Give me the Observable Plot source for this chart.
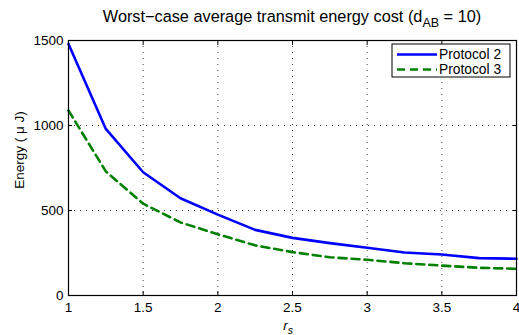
<!DOCTYPE html>
<html>
<head>
<meta charset="utf-8">
<script src="https://cdn.jsdelivr.net/npm/d3@7"></script>
<script src="https://cdn.jsdelivr.net/npm/@observablehq/plot@0.6"></script>
<style>
  html, body { margin: 0; padding: 0; background: #fff; }
  svg { display: block; }
</style>
</head>
<body>
<div id="chart"></div>
<script>
const rs = [1, 1.25, 1.5, 1.75, 2, 2.25, 2.5, 2.75, 3, 3.25, 3.5, 3.75, 4];
const protocol2 = [1480, 980, 725, 572, 476, 386, 339, 308, 281, 253, 241, 220, 216];
const protocol3 = [1088, 730, 540, 430, 360, 295, 255, 225, 210, 190, 176, 163, 157];
const xTicks = [1, 1.5, 2, 2.5, 3, 3.5, 4];
const yTicks = [0, 500, 1000, 1500];
const seriesNames = ["Protocol 2", "Protocol 3"];
const seriesColors = ["#0000ff", "#008000"];

const data = [];
rs.forEach((r, i) => {
  data.push({r, e: protocol2[i], s: seriesNames[0]});
  data.push({r, e: protocol3[i], s: seriesNames[1]});
});

const font = "'Liberation Sans', Arial, Helvetica, sans-serif";
const empty = () => "";

const chart = Plot.plot({
  width: 519,
  height: 335,
  marginLeft: 68,
  marginRight: 3,
  marginTop: 40,
  marginBottom: 40,
  style: {fontFamily: font, fontSize: "13.5px", color: "#000", background: "#fff"},
  x: {domain: [1, 4]},
  y: {domain: [0, 1500]},
  marks: [
    Plot.gridX(xTicks, {stroke: "#222", strokeOpacity: 0.85, strokeDasharray: "1,5"}),
    Plot.gridY(yTicks, {stroke: "#222", strokeOpacity: 0.85, strokeDasharray: "1,5"}),
    Plot.line(data.filter(d => d.s === seriesNames[0]), {x: "r", y: "e", stroke: seriesColors[0], strokeWidth: 2.6}),
    Plot.line(data.filter(d => d.s === seriesNames[1]), {x: "r", y: "e", stroke: seriesColors[1], strokeWidth: 2.6, strokeDasharray: "8,5"}),
    Plot.frame({stroke: "#000", strokeWidth: 1.2}),
    // inward tick marks (MATLAB style)
    Plot.axisX(xTicks, {anchor: "bottom", tickSize: 4, dy: -4, tickFormat: empty, label: null}),
    Plot.axisX(xTicks, {anchor: "top", tickSize: 4, dy: 4, tickFormat: empty, label: null}),
    Plot.axisY(yTicks, {anchor: "left", tickSize: 4, dx: 4, tickFormat: empty, label: null}),
    Plot.axisY(yTicks, {anchor: "right", tickSize: 4, dx: -4, tickFormat: empty, label: null}),
    // tick labels
    Plot.axisX(xTicks, {anchor: "bottom", tickSize: 0, tickPadding: 7, tickFormat: d => String(d), label: null}),
    Plot.axisY(yTicks, {anchor: "left", tickSize: 0, tickPadding: 5, tickFormat: d => String(d), label: null})
  ]
});

document.getElementById("chart").appendChild(chart);

const svg = d3.select(chart);

// Title
const title = svg.append("text")
  .attr("x", 292).attr("y", 22)
  .attr("text-anchor", "middle")
  .attr("font-family", font).attr("font-size", 16.3).attr("fill", "#000");
title.append("tspan").text("Worst\u2212case average transmit energy cost (d");
title.append("tspan").attr("dy", 5).attr("font-size", 12.5).text("AB");
title.append("tspan").attr("dy", -5).text(" = 10)");

// Y label
svg.append("text")
  .attr("transform", "translate(24,150) rotate(-90)")
  .attr("text-anchor", "middle")
  .attr("font-family", font).attr("font-size", 13.5).attr("fill", "#000")
  .text("Energy ( \u03bc J)");

// X label
const xl = svg.append("text")
  .attr("x", 288).attr("y", 330)
  .attr("text-anchor", "middle")
  .attr("font-family", font).attr("font-size", 13.5).attr("fill", "#000");
xl.append("tspan").attr("font-style", "italic").text("r");
xl.append("tspan").attr("dy", 4).attr("font-size", 10.5).attr("font-style", "italic").text("s");

// Legend
const lg = svg.append("g").attr("text-anchor", "start");
lg.append("rect").attr("x", 392).attr("y", 44).attr("width", 118).attr("height", 33)
  .attr("fill", "#fff").attr("stroke", "#000").attr("stroke-width", 1);
seriesNames.forEach((name, i) => {
  const yy = 54.5 + i * 15;
  lg.append("line").attr("x1", 397).attr("x2", 437).attr("y1", yy).attr("y2", yy)
    .attr("stroke", seriesColors[i]).attr("stroke-width", 2.6)
    .attr("stroke-dasharray", i === 1 ? "8,5" : null);
  lg.append("text").attr("x", 439).attr("y", yy).attr("dy", "0.35em")
    .attr("text-anchor", "start")
    .attr("font-family", font).attr("font-size", 13.8).attr("fill", "#000")
    .text(name);
});
</script>
</body>
</html>
